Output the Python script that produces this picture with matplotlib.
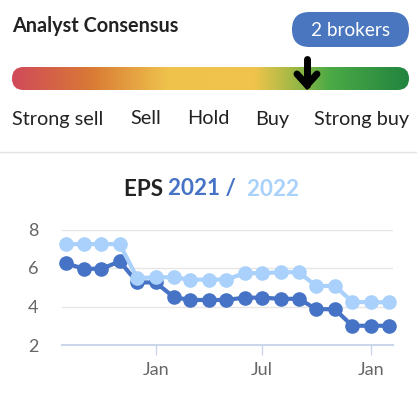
import matplotlib
matplotlib.use("Agg")
import matplotlib.pyplot as plt
import matplotlib.dates as mdates
from matplotlib.colors import LinearSegmentedColormap
from matplotlib.patches import FancyBboxPatch
import numpy as np
import pandas as pd

plt.rcParams['font.family'] = ['Lato', 'DejaVu Sans']

# consensus scale
ratings = ['Strong sell', 'Sell', 'Hold', 'Buy', 'Strong buy']
rating_x = [12, 130, 187, 255, 314]
consensus_pos = 0.743   # position of arrow on the bar (0..1)
n_brokers = 2

# EPS estimates, monthly
months = pd.date_range('2020-08-01', periods=19, freq='MS')
eps_2021 = [6.25, 5.96, 5.96, 6.34, 5.25, 5.25, 4.48, 4.34, 4.34, 4.34,
            4.46, 4.46, 4.40, 4.40, 3.86, 3.86, 3.00, 3.00, 3.00]
eps_2022 = [7.24, 7.24, 7.24, 7.24, 5.47, 5.52, 5.52, 5.39, 5.40, 5.40,
            5.73, 5.73, 5.78, 5.78, 5.05, 5.08, 4.24, 4.22, 4.22]

dark_blue = '#4673c5'
light_blue = '#a9d1fb'

W, H = 417, 399
fig = plt.figure(figsize=(W / 100, H / 100), dpi=100)

# header drawn in pixel coordinates
bg = fig.add_axes([0, 0, 1, 1])
bg.set_xlim(0, W)
bg.set_ylim(H, 0)
bg.axis('off')

bg.text(12, 26, 'Analyst Consensus', fontsize=14.3, fontweight='bold',
        color='#222222', va='center', ha='left')

pill = FancyBboxPatch((292, 12), 117, 35, boxstyle='round,pad=0,rounding_size=17.5',
                      fc='#4a76bf', ec='none')
bg.add_patch(pill)
bg.text(350.5, 30, f'{n_brokers} brokers', fontsize=13.7, color='white',
        ha='center', va='center')

# gradient bar
cmap = LinearSegmentedColormap.from_list('cons', [
    (0.0, '#d04a5a'), (0.20, '#d97a35'), (0.39, '#efc24c'), (0.61, '#f0c44c'),
    (0.70, '#a9ba45'), (0.80, '#4caa46'), (1.0, '#22843f')])
bar_l, bar_r, bar_t, bar_b = 12, 409, 67, 90
grad = np.linspace(0, 1, 256).reshape(1, -1)
im = bg.imshow(grad, cmap=cmap, extent=(bar_l, bar_r, bar_b, bar_t), aspect='auto')
clip = FancyBboxPatch((bar_l, bar_t), bar_r - bar_l, bar_b - bar_t,
                      boxstyle='round,pad=0,rounding_size=11.5', fc='none', ec='none')
bg.add_patch(clip)
im.set_clip_path(clip)

# arrow
ax_x = bar_l + consensus_pos * (bar_r - bar_l)
bg.plot([ax_x, ax_x], [59, 85], color='black', lw=5, solid_capstyle='round')
bg.plot([ax_x - 10, ax_x, ax_x + 10], [74, 85, 74], color='black', lw=5,
        solid_capstyle='round', solid_joinstyle='miter')

for lab, x in zip(ratings, rating_x):
    bg.text(x, 119, lab, fontsize=14.3, color='#222222', ha='left', va='center')

bg.plot([0, W], [152, 152], color='#e3e3e3', lw=1)

# title with coloured parts
t1 = bg.text(124, 189, 'EPS ', fontsize=16.2, fontweight='bold', color='#222222',
             ha='left', va='center')
fig.canvas.draw()
parts = [('2021 /', dark_blue), ('  2022', light_blue)]
prev = t1
for s, c in parts:
    bb = prev.get_window_extent()
    xd = bg.transData.inverted().transform((bb.x1, 0))[0]
    prev = bg.text(xd, 189, s, fontsize=16.2, fontweight='bold', color=c,
                   ha='left', va='center')
    fig.canvas.draw()

# EPS chart
x0, x1, y_top, y_bot = 62, 393, 229.5, 345
ax = fig.add_axes([x0 / W, 1 - y_bot / H, (x1 - x0) / W, (y_bot - y_top) / H])
ax.set_facecolor('none')
ax.plot(months, eps_2021, color=dark_blue, lw=3, marker='o', ms=9.5, clip_on=False, zorder=3)
ax.plot(months, eps_2022, color=light_blue, lw=3, marker='o', ms=9.5, clip_on=False, zorder=4)

ax.set_ylim(2, 8)
ax.set_xlim(pd.Timestamp('2020-07-26'), pd.Timestamp('2022-02-08'))
ax.set_yticks([2, 4, 6, 8])
ax.yaxis.grid(True, color='#e6e6e6', lw=1)
ax.set_axisbelow(True)
ax.set_xticks(pd.to_datetime(['2021-01-01', '2021-07-01', '2022-01-01']))
ax.xaxis.set_major_formatter(mdates.DateFormatter('%b'))
for sp in ['top', 'right', 'left']:
    ax.spines[sp].set_visible(False)
ax.spines['bottom'].set_color('#ccd6eb')
ax.spines['bottom'].set_linewidth(1.5)
ax.tick_params(axis='x', length=7, color='#ccd6eb', width=1, labelsize=13,
               labelcolor='#666666', pad=5)
ax.tick_params(axis='y', length=0, labelsize=13, labelcolor='#666666', pad=17)

fig.savefig('out.png', dpi=100)
